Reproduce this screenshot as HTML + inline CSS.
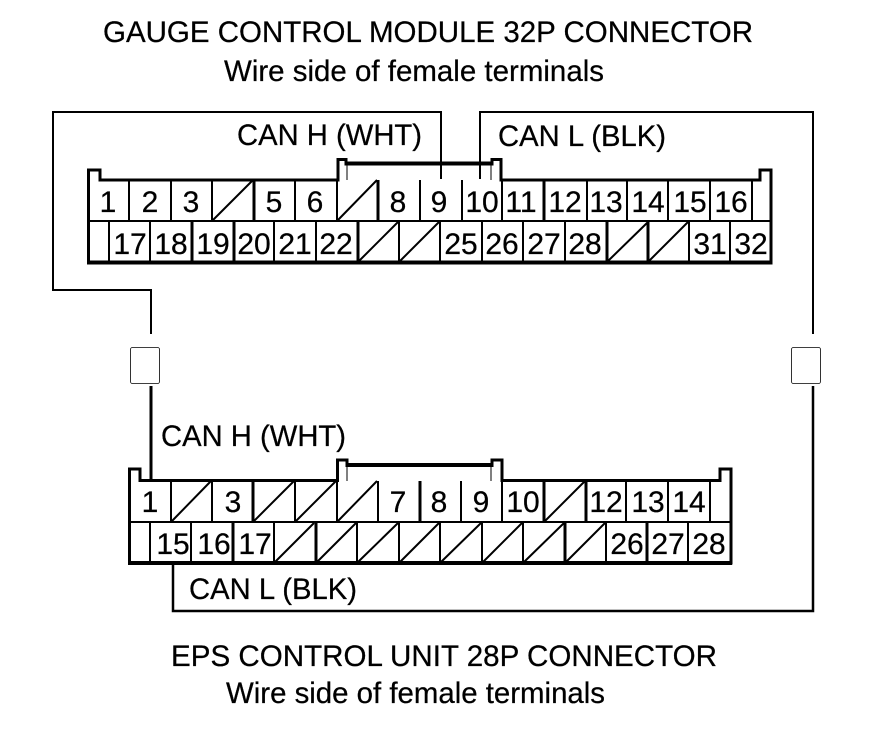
<!DOCTYPE html>
<html><head><meta charset="utf-8"><style>
html,body{margin:0;padding:0;background:#fff}
svg{display:block}
text{font-family:"Liberation Sans",Arial,sans-serif;font-size:30px;fill:#000;stroke:#000;stroke-width:.25px}
.n text{text-anchor:middle;font-size:30px}
</style></head><body>
<svg width="880" height="736" viewBox="0 0 880 736" xmlns="http://www.w3.org/2000/svg">
<rect width="880" height="736" fill="#fff"/>
<text x="103" y="42" textLength="650" lengthAdjust="spacingAndGlyphs">GAUGE CONTROL MODULE 32P CONNECTOR</text>
<text x="224" y="81" textLength="380" lengthAdjust="spacingAndGlyphs">Wire side of female terminals</text>
<text x="171" y="666" textLength="546" lengthAdjust="spacingAndGlyphs">EPS CONTROL UNIT 28P CONNECTOR</text>
<text x="226" y="703" textLength="379" lengthAdjust="spacingAndGlyphs">Wire side of female terminals</text>
<text x="237" y="145" textLength="185" lengthAdjust="spacingAndGlyphs">CAN H (WHT)</text>
<text x="498" y="146" textLength="168" lengthAdjust="spacingAndGlyphs">CAN L (BLK)</text>
<text x="161" y="446" textLength="185" lengthAdjust="spacingAndGlyphs">CAN H (WHT)</text>
<text x="189" y="599" textLength="168" lengthAdjust="spacingAndGlyphs">CAN L (BLK)</text>

<g fill="none" stroke="#000" stroke-width="2">
<path d="M441 179V112H53V290H151V334"/>
<path d="M480 179V112H813V334"/>
<path d="M151 386V480" stroke-width="3"/>
<path d="M813 386V611H173V563" stroke-width="2.500"/>
<rect x="130.500" y="347.500" width="29" height="36" rx="2" stroke-width=".8"/>
<rect x="791.500" y="347.500" width="29" height="36" rx="2" stroke-width=".8"/>
</g>

<!-- top connector -->
<g fill="none" stroke="#000" stroke-width="3">
<path d="M88.500 263V170H100V180H338V159.500H346V164H492V159.500H501V180H760V170H771V263Z" stroke-linejoin="miter"/>
<path d="M347 163.500H491" stroke-width="4"/>
<path d="M87 262.500H772" stroke-width="4"/>
<path d="M88 221H771" stroke-width="2"/>
</g>
<path d="M347 164V180M491 164V180" stroke="#000" stroke-width="1" fill="none"/>
<g stroke="#000" stroke-width="2" fill="none">
<path d="M129 180V221M171 180V221M212 180V221M295 180V221M337 180V221M420 180V221M462 180V221M502 180V221M587 180V221M627 180V221M668 180V221M710 180V221M752 180V221"/>
<path d="M254 180V221M378 180V221M544 180V221" stroke-width="3"/>
<path d="M109 221V262M150 221V262M274 221V262M316 221V262M399 221V262M440 221V262M482 221V262M523 221V262M565 221V262M689 221V262M730 221V262"/>
<path d="M192 221V262M234 221V262M358 221V262M607 221V262M648 221V262" stroke-width="3"/>
<path d="M213 220L253 180M338 220L377 180M359 261L398 222M400 261L439 222M608 261L648 222M649 261L688 222"/>
</g>
<g class="n">
<text x="108" y="212">1</text><text x="150" y="212">2</text><text x="191" y="212">3</text><text x="274" y="212">5</text><text x="315" y="212">6</text><text x="398" y="212">8</text><text x="439" y="212">9</text><text x="482" y="212">10</text><text x="521" y="212">11</text><text x="565" y="212">12</text><text x="606" y="212">13</text><text x="648" y="212">14</text><text x="690" y="212">15</text><text x="731" y="212">16</text>
<text x="130" y="254">17</text><text x="171" y="254">18</text><text x="213" y="254">19</text><text x="254" y="254">20</text><text x="295" y="254">21</text><text x="336" y="254">22</text><text x="461" y="254">25</text><text x="502" y="254">26</text><text x="544" y="254">27</text><text x="585" y="254">28</text><text x="710" y="254">31</text><text x="751" y="254">32</text>
</g>

<!-- bottom connector -->
<g fill="none" stroke="#000" stroke-width="3">
<path d="M129.500 563V469H140V480.500H337.500V460H347V465.500H492V460H502V480.500H720V469H731V563Z"/>
<path d="M347 465H491" stroke-width="4"/>
<path d="M128 563H732" stroke-width="4"/>
<path d="M129 522H731" stroke-width="2"/>
</g>
<path d="M347 465V481M491 465V481" stroke="#000" stroke-width="1" fill="none"/>
<g stroke="#000" stroke-width="2" fill="none">
<path d="M171 481V522M212 481V522M295 481V522M337 481V522M378 481V522M461 481V522M502 481V522M626 481V522M668 481V522M710 481V522"/>
<path d="M253 481V522M420 481V522M544 481V522M586 481V522" stroke-width="3"/>
<path d="M150 522V563M191 522V563M274 522V563M357 522V563M399 522V563M440 522V563M482 522V563M523 522V563M606 522V563M688 522V563"/>
<path d="M233 522V563M316 522V563M565 522V563M647 522V563" stroke-width="3"/>
<path d="M172 521L211 481M254 521L294 481M296 521L336 481M338 521L377 481M545 521L585 481"/>
<path d="M275 562L314 523M317 562L356 523M358 562L398 523M400 562L439 523M441 562L481 523M483 562L522 523M524 562L564 523M566 562L605 523"/>
</g>
<g class="n">
<text x="150" y="512">1</text><text x="233" y="512">3</text><text x="398" y="512">7</text><text x="439" y="512">8</text><text x="481" y="512">9</text><text x="523" y="512">10</text><text x="606" y="512">12</text><text x="648" y="512">13</text><text x="689" y="512">14</text>
<text x="173" y="554">15</text><text x="214" y="554">16</text><text x="255" y="554">17</text><text x="627" y="554">26</text><text x="668" y="554">27</text><text x="709" y="554">28</text>
</g>
</svg>
</body></html>
